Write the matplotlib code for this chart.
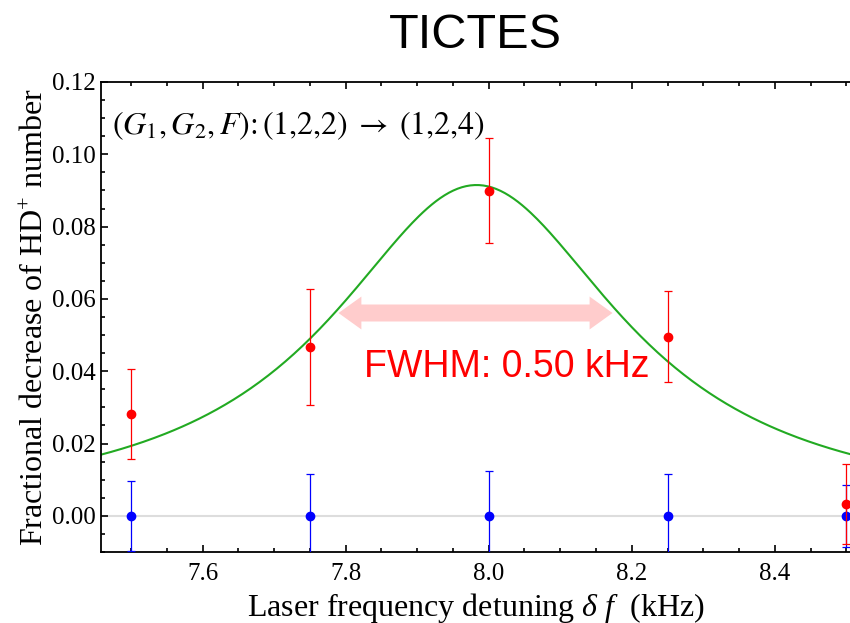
import numpy as np
import matplotlib
matplotlib.use("Agg")
import matplotlib.pyplot as plt
from matplotlib.patches import Polygon
from matplotlib.ticker import MultipleLocator, FormatStrFormatter

# measured points (kHz detuning, fractional decrease, 1-sigma error)
detuning = [7.50, 7.75, 8.00, 8.25, 8.50]
signal = [0.0282, 0.0467, 0.0899, 0.0495, 0.0033]
signal_err = [0.0125, 0.0160, 0.0145, 0.0126, 0.0110]
reference = [0.0, 0.0, 0.0, 0.0, 0.0]
reference_err = [0.0097, 0.0116, 0.0124, 0.0116, 0.0085]

# Lorentzian fit result
fit_center = 7.983
fit_amp = 0.0915
fit_fwhm = 0.50

# pink arrow span and height
arrow_x = [7.790, 8.173]
arrow_y = 0.0561

plt.rcParams['font.family'] = ['Liberation Serif', 'DejaVu Serif']
plt.rcParams['mathtext.fontset'] = 'custom'
plt.rcParams['mathtext.rm'] = 'Liberation Serif'
plt.rcParams['mathtext.it'] = 'Liberation Serif:italic'

fig = plt.figure(figsize=(8.5, 6.23), dpi=100)
ax = fig.add_axes([0.1188, 0.114, 0.8812, 0.7544])

ax.axhline(0, color='#dddddd', lw=1.5, zorder=0)

xs = np.linspace(7.40, 8.60, 400)
gamma = fit_fwhm / 2
ax.plot(xs, fit_amp / (1 + ((xs - fit_center) / gamma) ** 2), color='#22aa22', lw=1.5, zorder=2)

ax.errorbar(detuning, signal, yerr=signal_err, fmt='o', color='red', ms=6,
            elinewidth=0.9, capsize=3, capthick=0.9, zorder=4)
ax.errorbar(detuning, reference, yerr=reference_err, fmt='o', color='blue', ms=6,
            elinewidth=0.9, capsize=3, capthick=0.9, zorder=3)

# block double arrow as one polygon (shaft half-width, head half-width, head length)
sw, hw, hl = 0.00235, 0.00455, 0.032
x0, x1, y = arrow_x[0], arrow_x[1], arrow_y
verts = [(x0, y), (x0 + hl, y + hw), (x0 + hl, y + sw), (x1 - hl, y + sw),
         (x1 - hl, y + hw), (x1, y), (x1 - hl, y - hw), (x1 - hl, y - sw),
         (x0 + hl, y - sw), (x0 + hl, y - hw)]
ax.add_patch(Polygon(verts, closed=True, facecolor='#ffcccc', edgecolor='none', zorder=1))

ax.text(8.0245, 0.0385, 'FWHM: 0.50 kHz', color='red', fontsize=27,
        family='Liberation Sans', ha='center', va='baseline')
ax.text(7.474, 0.1055,
        r'$(G_1, G_2, F)\colon\,(1{,}2{,}2)\;\rightarrow\;(1{,}2{,}4)$',
        fontsize=23, math_fontfamily='stix', va='baseline')

ax.set_xlim(7.458, 8.505)
ax.set_ylim(-0.01, 0.12)
ax.xaxis.set_major_locator(MultipleLocator(0.2))
ax.xaxis.set_minor_locator(MultipleLocator(0.05))
ax.yaxis.set_major_locator(MultipleLocator(0.02))
ax.yaxis.set_minor_locator(MultipleLocator(0.005))
ax.xaxis.set_major_formatter(FormatStrFormatter('%.1f'))
ax.yaxis.set_major_formatter(FormatStrFormatter('%.2f'))
ax.tick_params(which='both', direction='in', top=True, right=False, labelsize=18,
               width=1.2, labelfontfamily='Liberation Serif')
ax.tick_params(which='major', length=5)
ax.tick_params(which='minor', length=3)
ax.tick_params(axis='x', pad=8)
ax.spines['right'].set_visible(False)
for s in ('left', 'bottom', 'top'):
    ax.spines[s].set_linewidth(1.3)

ax.set_xlabel(r'Laser frequency detuning $\delta\ f$  (kHz)', fontsize=23, labelpad=4)
ax.set_ylabel(r'Fractional decrease of HD$^{+}$ number', fontsize=23, labelpad=2)

fig.text(0.559, 0.923, 'TICTES', fontsize=35, family='Liberation Sans', ha='center', va='baseline')

fig.savefig('out.png', dpi=100)
